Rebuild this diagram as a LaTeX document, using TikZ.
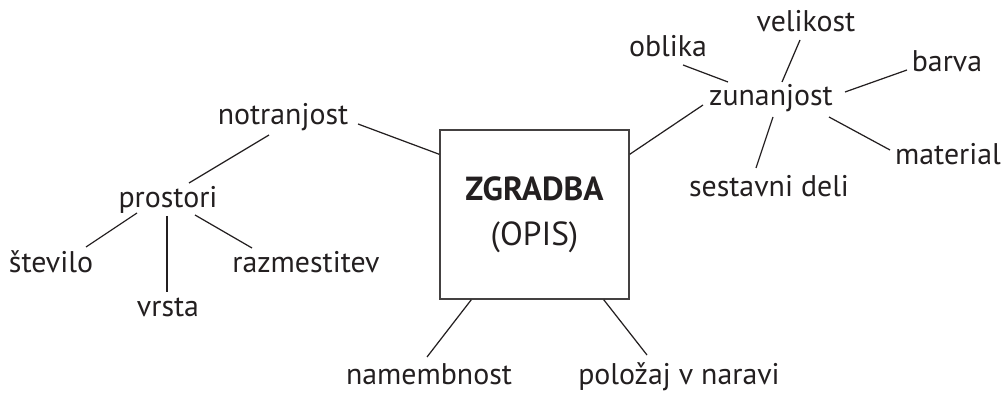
\documentclass[tikz,border=0pt]{standalone}
\usepackage{fontspec}
\setmainfont{PT Sans}
\definecolor{ink}{RGB}{35,31,32}
\begin{document}
\begin{tikzpicture}[x=0.02cm, y=-0.02cm,
  word/.style={anchor=base, inner sep=0, text=ink, font=\fontsize{17}{20}\selectfont},
  link/.style={ink, line width=0.7pt},
  hub/.style={draw=ink!85, line width=0.8pt, minimum width=3.78cm, minimum height=3.38cm, inner sep=0, align=center, text=ink, font=\fontsize{19}{25.5}\selectfont}]
  \useasboundingbox (0,0) rectangle (1003,394);
  % the building box
  \node [hub] (box) at (534.5,214.5) {\textbf{ZGRADBA}\\(OPIS)};
  % the inside part
  \node [word] (not) at (283,125) {notranjost};
  \node [word] (pro) at (168,208) {prostori};
  \node [word] (ste) at (51,273) {število};
  \node [word] (raz) at (306,273) {razmestitev};
  \node [word] (vrs) at (168,317) {vrsta};
  \draw [link] ([shift={(75,-1)}]not.base) -- ([shift={(0,25)}]box.north west);
  \draw [link] ([shift={(-14,10)}]not.base) -- ([shift={(21,-25)}]pro.base);
  \draw [link] ([shift={(-31,5)}]pro.base) -- ([shift={(35,-26)}]ste.base);
  \draw [link] ([shift={(-1,8)}]pro.base) -- ([shift={(-1,-25)}]vrs.base);
  \draw [link] ([shift={(27,7)}]pro.base) -- ([shift={(-54,-25)}]raz.base);
  % the outside part
  \node [word] (zun) at (771,106) {zunanjost};
  \node [word] (obl) at (668,57) {oblika};
  \node [word] (vel) at (806,32) {velikost};
  \node [word] (bar) at (947,72) {barva};
  \node [word] (mat) at (948,165) {material};
  \node [word] (ses) at (769,197) {sestavni deli};
  \draw [link] ([shift={(0,25)}]box.north east) -- ([shift={(-68,-1)}]zun.base);
  \draw [link] ([shift={(-43,-24)}]zun.base) -- ([shift={(15,8)}]obl.base);
  \draw [link] ([shift={(11,-24)}]zun.base) -- ([shift={(-6,8)}]vel.base);
  \draw [link] ([shift={(74,-14)}]zun.base) -- ([shift={(-40,-2)}]bar.base);
  \draw [link] ([shift={(58,11)}]zun.base) -- ([shift={(-58,-15)}]mat.base);
  \draw [link] ([shift={(2,11)}]zun.base) -- ([shift={(-13,-29)}]ses.base);
  % use and place
  \node [word] (nam) at (429,384) {namembnost};
  \node [word] (pol) at (679,384) {položaj v naravi};
  \draw [link] ([shift={(32,0)}]box.south west) -- ([shift={(-2,-27)}]nam.base);
  \draw [link] ([shift={(-26,0)}]box.south east) -- ([shift={(-32,-29)}]pol.base);
\end{tikzpicture}
\end{document}
